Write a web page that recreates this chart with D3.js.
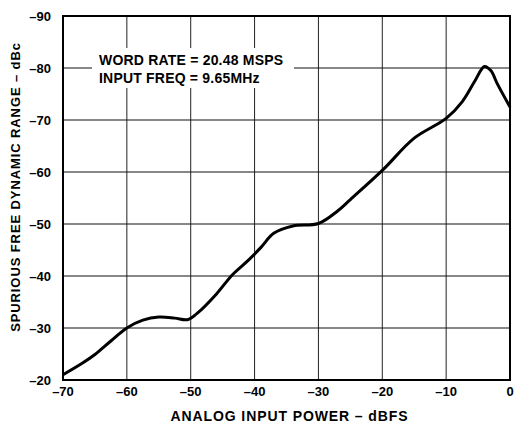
<!DOCTYPE html>
<html>
<head>
<meta charset="utf-8">
<script src="https://cdn.jsdelivr.net/npm/d3@7"></script>
<style>
  body { margin: 0; background: #fff; }
  text { font-family: "Liberation Sans", Arial, sans-serif; font-weight: bold; fill: #000; }
</style>
</head>
<body>
<div id="chart"></div>
<script>
// curve: input power (dBFS) and SFDR (dBc)
var inputPower = [-70, -67, -65, -62.5, -60, -57.5, -55, -52.5, -50.5, -49, -46, -43.5, -41, -39, -37, -34, -30, -27, -25, -20, -15, -10, -7.5, -5.5, -4, -3, -2, 0];
var sfdr = [-21, -23.2, -24.9, -27.5, -30, -31.5, -32.1, -31.9, -31.6, -32.8, -36.5, -40.2, -43, -45.5, -48.2, -49.6, -50.1, -52.5, -54.7, -60.3, -66.5, -70.3, -73.5, -77.5, -80.3, -79.5, -77, -72.5];

var xTicks = [-70, -60, -50, -40, -30, -20, -10, 0];
var yTicks = [-20, -30, -40, -50, -60, -70, -80, -90];
var notes = ["WORD RATE = 20.48 MSPS", "INPUT FREQ = 9.65MHz"];

var width = 515, height = 425;
var margin = {top: 16, right: 5, bottom: 45, left: 63};

var svg = d3.select("#chart")
  .append("svg")
    .attr("width", width)
    .attr("height", height);

var x = d3.scaleLinear().domain([-70, 0]).range([margin.left, width - margin.right]);
var y = d3.scaleLinear().domain([-20, -90]).range([height - margin.bottom, margin.top]);

var fmt = function(d) { return d === 0 ? "0" : "\u2013" + Math.abs(d); };

// grid
svg.append("g")
  .selectAll("line")
  .data(xTicks.slice(1, -1))
  .enter()
  .append("line")
    .attr("x1", function(d) { return x(d); })
    .attr("x2", function(d) { return x(d); })
    .attr("y1", y(-90))
    .attr("y2", y(-20))
    .attr("stroke", "#222")
    .attr("stroke-width", 1);

svg.append("g")
  .selectAll("line")
  .data(yTicks.slice(1, -1))
  .enter()
  .append("line")
    .attr("x1", x(-70))
    .attr("x2", x(0))
    .attr("y1", function(d) { return y(d); })
    .attr("y2", function(d) { return y(d); })
    .attr("stroke", "#111")
    .attr("stroke-width", 1.2);

// white box behind the notes
svg.append("rect")
  .attr("x", 92)
  .attr("y", 48)
  .attr("width", 202)
  .attr("height", 40)
  .attr("fill", "#fff");

svg.append("g")
  .selectAll("text")
  .data(notes)
  .enter()
  .append("text")
    .attr("x", 99)
    .attr("y", function(d, i) { return 65 + i * 18; })
    .style("font-size", "14px")
    .style("letter-spacing", "0.2px")
    .text(function(d) { return d; });

// frame
svg.append("rect")
  .attr("x", x(-70))
  .attr("y", y(-90))
  .attr("width", x(0) - x(-70))
  .attr("height", y(-20) - y(-90))
  .attr("fill", "none")
  .attr("stroke", "#000")
  .attr("stroke-width", 2);

// curve
var line = d3.line()
  .x(function(d, i) { return x(inputPower[i]); })
  .y(function(d) { return y(d); })
  .curve(d3.curveCatmullRom.alpha(0.5));

svg.append("path")
  .datum(sfdr)
  .attr("d", line)
  .attr("fill", "none")
  .attr("stroke", "#000")
  .attr("stroke-width", 3)
  .attr("stroke-linejoin", "round");

// tick labels
svg.append("g")
  .selectAll("text")
  .data(xTicks)
  .enter()
  .append("text")
    .attr("x", function(d) { return x(d); })
    .attr("y", height - margin.bottom + 16)
    .attr("text-anchor", "middle")
    .style("font-size", "13px")
    .text(fmt);

svg.append("g")
  .selectAll("text")
  .data(yTicks)
  .enter()
  .append("text")
    .attr("x", margin.left - 12)
    .attr("y", function(d) { return y(d); })
    .attr("dy", "0.35em")
    .attr("text-anchor", "end")
    .style("font-size", "13px")
    .text(fmt);

// axis titles
svg.append("text")
  .attr("x", (x(-70) + x(0)) / 2 + 3)
  .attr("y", 421)
  .attr("text-anchor", "middle")
  .style("font-size", "14px")
  .style("letter-spacing", "0.9px")
  .text("ANALOG INPUT POWER \u2013 dBFS");

svg.append("text")
  .attr("transform", "translate(20,187) rotate(-90)")
  .attr("text-anchor", "middle")
  .style("font-size", "13px")
  .style("letter-spacing", "0.9px")
  .text("SPURIOUS FREE DYNAMIC RANGE \u2013 dBc");
</script>
</body>
</html>
